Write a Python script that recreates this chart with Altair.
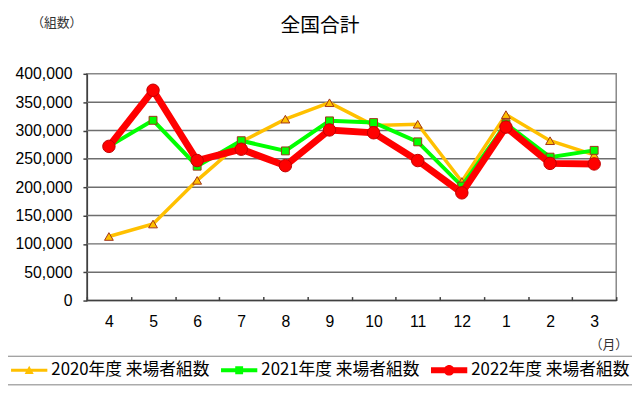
import altair as alt
import pandas as pd

months = ["4", "5", "6", "7", "8", "9", "10", "11", "12", "1", "2", "3"]
series_names = ["2020年度 来場者組数", "2021年度 来場者組数", "2022年度 来場者組数"]
v2020 = [113000, 135000, 212000, 280000, 320000, 349000, 309000, 311000, 210000, 328000, 282000, 257000]
v2021 = [272000, 318000, 237000, 282000, 264000, 317000, 314000, 280000, 202000, 312000, 253000, 265000]
v2022 = [272000, 371000, 247000, 267000, 238000, 301000, 296000, 247000, 190000, 306000, 242000, 241000]
y_ticks = [0, 50000, 100000, 150000, 200000, 250000, 300000, 350000, 400000]

line_colors = ["#FFC000", "#00FF00", "#FF0000"]
line_widths = [3.5, 4, 7]
marker_shapes = ["triangle-up", "square", "circle"]
marker_sizes = [80, 64, 160]
marker_fills = ["#FFC000", "#00FF00", "#FF0000"]
marker_strokes = ["#A0331A", "#A0331A", "#C00000"]

rows = []
for name, vals in zip(series_names, [v2020, v2021, v2022]):
    for m, v in zip(months, vals):
        rows.append({"series": name, "month": m, "value": v})
df = pd.DataFrame(rows)
grid_df = pd.DataFrame({"value": y_ticks[1:-1]})
base_df = pd.DataFrame({"value": y_ticks[:1]})

legend_paths = [
    "M-4.6,-0.4H4.6V0.4H-4.6Z M0,-1.15L1.15,0.95H-1.15Z",
    "M-4.6,-0.5H4.6V0.5H-4.6Z M-1,-1H1V1H-1Z",
    "M-4.6,-0.75H4.6V0.75H-4.6Z M-1.35,0A1.35,1.35,0,0,1,1.35,0A1.35,1.35,0,0,1,-1.35,0Z",
]
sym_expr = (
    f"datum.value === '{series_names[0]}' ? '{legend_paths[0]}' : "
    f"datum.value === '{series_names[1]}' ? '{legend_paths[1]}' : '{legend_paths[2]}'"
)

legend = alt.Legend(
    orient="none", legendX=-86, legendY=286, direction="horizontal", columns=3,
    title=None, strokeColor="#808080", padding=6, gridAlign="all",
    symbolType={"expr": sym_expr}, symbolSize=64, symbolStrokeWidth=0,
    symbolOffset=13, labelOffset=14, symbolOpacity=1,
    labelFont="Noto Sans CJK JP", labelFontSize=17, labelColor="black",
    labelLimit=400, columnPadding=8,
)

y_axis = alt.Axis(
    values=y_ticks, labelExpr="format(datum.value, ',')", grid=False,
    labelFont="Liberation Sans", labelFontSize=16,
    labelColor="black", labelPadding=11, tickSize=4, tickWidth=1.5, tickColor="#404040",
    domainColor="#404040", domainWidth=1.5,
    title="（組数）", titleAngle=0, titleX=-31, titleY=-52, titleAlign="center",
    titleBaseline="middle", titleFont="Noto Sans CJK JP", titleFontSize=13,
    titleFontWeight="normal", titleColor="#333333",
)
x_axis = alt.Axis(
    orient="bottom", offset=-4, labelAngle=0, labelFont="Liberation Sans",
    labelFontSize=16, labelColor="black", labelPadding=13,
    ticks=True, tickSize=4, tickWidth=1.5, tickBand="extent", tickColor="#404040",
    domain=False, grid=False,
    title="（月）", titleX=529, titleY=49, titleAlign="center", titleBaseline="middle",
    titleFont="Noto Sans CJK JP", titleFontSize=13, titleFontWeight="normal",
    titleColor="#333333",
)

xscale = alt.Scale(type="band", paddingInner=0, paddingOuter=0)
yscale = alt.Scale(domain=[0, 400000], nice=False, zero=True)
fill_scale = alt.Scale(domain=series_names, range=marker_fills)

gridlines = alt.Chart(grid_df).mark_rule(color="#6E6E6E", strokeWidth=1.5).encode(
    y=alt.Y("value:Q", scale=yscale, axis=y_axis),
)
baseline = alt.Chart(base_df).mark_rule(color="#404040", strokeWidth=1.5).encode(
    y=alt.Y("value:Q", scale=yscale, axis=y_axis),
)

layers = [gridlines, baseline]
for i, name in enumerate(series_names):
    sub = alt.Chart(df).transform_filter(alt.datum.series == name)
    x_enc = alt.X("month:N", sort=months, scale=xscale, bandPosition=0.5, axis=x_axis)
    line = sub.mark_line(color=line_colors[i], strokeWidth=line_widths[i], opacity=1).encode(
        x=x_enc,
        y=alt.Y("value:Q", scale=yscale, axis=y_axis),
    )
    pts = sub.mark_point(
        filled=True, shape=marker_shapes[i], size=marker_sizes[i],
        stroke=marker_strokes[i], strokeWidth=1, opacity=1,
    ).encode(
        x=x_enc,
        y=alt.Y("value:Q", scale=yscale, axis=y_axis),
        fill=alt.Fill("series:N", scale=fill_scale, legend=legend),
    )
    layers += [line, pts]

chart = alt.layer(*layers).properties(
    width=537, height=230,
    autosize=alt.AutoSizeParams(type="none"),
    padding={"left": 80, "top": 64, "right": 16, "bottom": 90},
    background="white",
    title=alt.TitleParams(
        "全国合計", font="Noto Sans CJK JP", fontSize=20, fontWeight="normal",
        color="black", anchor="middle", dx=-32, offset=0, dy=20,
    ),
).configure_view(stroke="#888888", strokeWidth=1.5)

chart.save("out.html", embed_options={"renderer": "svg", "actions": False})
